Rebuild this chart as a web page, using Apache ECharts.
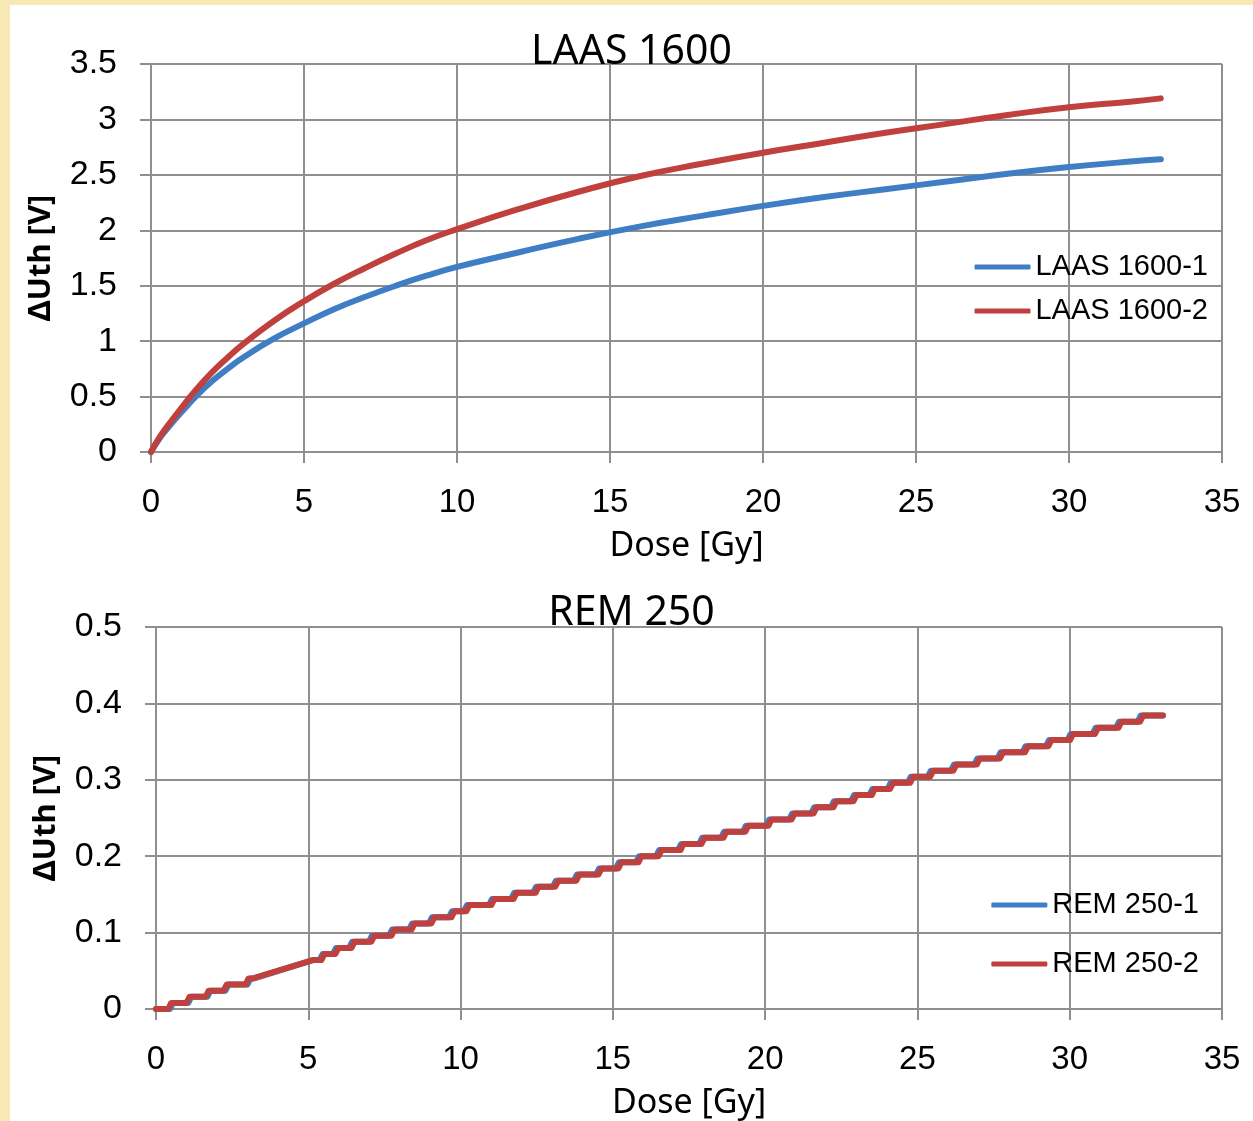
<!DOCTYPE html>
<html>
<head>
<meta charset="utf-8">
<script src="https://cdn.jsdelivr.net/npm/echarts@6/dist/echarts.min.js"></script>
<style>
  html, body { margin: 0; padding: 0; width: 1253px; height: 1121px; overflow: hidden; background: #f8e8b4; }
  #main { position: absolute; left: 10px; top: 5px; width: 1243px; height: 1116px; background: #fff; }
</style>
</head>
<body>
<div id="main"></div>
<script>
// LAAS 1600 - smooth curves
var laasDose = [0, 0.25, 0.5, 1, 1.5, 2, 2.5, 3, 4, 5, 6, 7, 8, 9, 10, 12, 14, 16, 18, 20, 22, 24, 26, 28, 30, 32, 33];
var laas1 = [0, 0.11, 0.20, 0.36, 0.51, 0.64, 0.75, 0.85, 1.02, 1.16, 1.29, 1.40, 1.50, 1.59, 1.67, 1.80, 1.925, 2.035, 2.13, 2.22, 2.30, 2.37, 2.44, 2.51, 2.57, 2.62, 2.64];
var laas2 = [0, 0.12, 0.22, 0.40, 0.57, 0.72, 0.85, 0.97, 1.18, 1.36, 1.52, 1.66, 1.79, 1.91, 2.01, 2.19, 2.35, 2.49, 2.60, 2.70, 2.79, 2.88, 2.96, 3.04, 3.11, 3.16, 3.19];

// REM 250 - quantised staircase, one level per flat, start/end dose of each flat
var remLevel = [0, 0.008, 0.016, 0.024, 0.032, 0.040, 0.064, 0.072, 0.080, 0.088, 0.096, 0.104, 0.112, 0.120,
  0.128, 0.136, 0.144, 0.152, 0.160, 0.168, 0.176, 0.184, 0.192, 0.200, 0.208, 0.216, 0.224, 0.232, 0.240,
  0.248, 0.256, 0.264, 0.272, 0.280, 0.288, 0.296, 0.304, 0.312, 0.320, 0.328, 0.336, 0.344, 0.352, 0.360,
  0.368, 0.376, 0.384];
var rem2Flat = [0, 0.40, 0.50, 1.00, 1.10, 1.63, 1.73, 2.22, 2.32, 2.94, 3.04, 3.18, 5.15, 5.43, 5.53, 5.89,
  5.99, 6.42, 6.52, 7.07, 7.17, 7.73, 7.83, 8.39, 8.49, 9.04, 9.14, 9.70, 9.80, 10.19, 10.29, 11.01,
  11.11, 11.74, 11.84, 12.46, 12.56, 13.11, 13.21, 13.80, 13.90, 14.53, 14.63, 15.18, 15.28, 15.84,
  15.94, 16.50, 16.60, 17.22, 17.32, 17.91, 18.01, 18.63, 18.73, 19.35, 19.45, 20.11, 20.21, 20.87,
  20.97, 21.59, 21.69, 22.24, 22.34, 22.90, 23.00, 23.50, 23.60, 24.10, 24.20, 24.76, 24.86, 25.42,
  25.52, 26.18, 26.28, 26.95, 27.05, 27.71, 27.81, 28.53, 28.63, 29.30, 29.40, 30.01, 30.11, 30.83,
  30.93, 31.60, 31.70, 32.31, 32.41, 33.06];
var rem1Flat = [0, 0.46, 0.56, 1.06, 1.16, 1.69, 1.79, 2.28, 2.38, 3.00, 3.10, 3.22, 5.15, 5.37, 5.47, 5.81,
  5.91, 6.34, 6.44, 6.99, 7.09, 7.65, 7.75, 8.31, 8.41, 8.96, 9.06, 9.62, 9.72, 10.11, 10.21, 10.93,
  11.03, 11.66, 11.76, 12.38, 12.48, 13.03, 13.13, 13.72, 13.82, 14.45, 14.55, 15.10, 15.20, 15.76,
  15.86, 16.42, 16.52, 17.14, 17.24, 17.83, 17.93, 18.55, 18.65, 19.27, 19.37, 20.03, 20.13, 20.79,
  20.89, 21.51, 21.61, 22.16, 22.26, 22.82, 22.92, 23.42, 23.52, 24.02, 24.12, 24.68, 24.78, 25.34,
  25.44, 26.10, 26.20, 26.87, 26.97, 27.63, 27.73, 28.45, 28.55, 29.22, 29.32, 29.93, 30.03, 30.75,
  30.85, 31.52, 31.62, 32.23, 32.33, 33.06];

var blue = '#3f7ec4';
var red = '#c0403e';
var grey = '#8f8f8f';

function pairs(xs, ys) {
    return xs.map(function (x, i) { return [x, ys[i]]; });
}
function stairs(flat, levels) {
    var out = [];
    for (var i = 0; i < levels.length; i++) {
        out.push([flat[2 * i], levels[i]]);
        out.push([flat[2 * i + 1], levels[i]]);
    }
    return out;
}

function xAx(idx) {
    return {
        gridIndex: idx, type: 'value', min: 0, max: 35, interval: 5,
        name: 'Dose [Gy]', nameLocation: 'middle', nameGap: 77,
        nameTextStyle: { fontFamily: 'Noto Sans', fontSize: 34, color: '#000' },
        axisLine: { lineStyle: { color: grey, width: 2 } },
        axisTick: { show: true, length: 11, lineStyle: { color: grey, width: 2 } },
        axisLabel: { margin: 34, fontFamily: 'Liberation Sans', fontSize: 33, color: '#000' },
        splitLine: { show: true, showMinLine: true, showMaxLine: true, lineStyle: { color: grey, width: 2 } }
    };
}
function yAx(idx, max, step) {
    return {
        gridIndex: idx, type: 'value', min: 0, max: max, interval: step,
        name: 'ΔUth [V]', nameLocation: 'middle', nameGap: 94,
        nameTextStyle: { fontFamily: 'Noto Sans', fontWeight: 'bold', fontSize: 31, color: '#000' },
        axisLine: { show: true, lineStyle: { color: grey, width: 2 } },
        axisTick: { show: true, length: 11, lineStyle: { color: grey, width: 2 } },
        axisLabel: { margin: 34, fontFamily: 'Liberation Sans', fontSize: 34, color: '#000' },
        splitLine: { show: true, showMinLine: true, showMaxLine: true, lineStyle: { color: grey, width: 2 } }
    };
}
function lineSeries(name, data, color, idx, smooth) {
    return {
        name: name, type: 'line', xAxisIndex: idx, yAxisIndex: idx,
        data: data, showSymbol: false, smooth: smooth,
        lineStyle: { color: color, width: 6, cap: 'round', join: 'round' },
        itemStyle: { color: color }
    };
}
var legendText = { fontFamily: 'Liberation Sans', fontSize: 29, color: '#000', lineHeight: 34 };

var chart = echarts.init(document.getElementById('main'));
var option = {
    animation: false,
    backgroundColor: '#fff',
    title: [
        { text: 'LAAS 1600', left: 'center', top: 27, padding: 0,
          textStyle: { fontFamily: 'Noto Sans', fontSize: 41, fontWeight: 'normal', color: '#000' } },
        { text: 'REM 250', left: 'center', top: 588, padding: 0,
          textStyle: { fontFamily: 'Noto Sans', fontSize: 41, fontWeight: 'normal', color: '#000' } }
    ],
    legend: [
        { data: ['LAAS 1600-1', 'LAAS 1600-2'], orient: 'vertical', right: 45, top: 245,
          icon: 'roundRect', itemWidth: 56, itemHeight: 5, itemGap: 10, padding: 0, textStyle: legendText },
        { data: ['REM 250-1', 'REM 250-2'], orient: 'vertical', right: 54, top: 883,
          icon: 'roundRect', itemWidth: 56, itemHeight: 5, itemGap: 25, padding: 0, textStyle: legendText }
    ],
    grid: [
        { left: 141, right: 31, top: 59, height: 388 },
        { left: 146, right: 31, top: 622, height: 385 }
    ],
    xAxis: [xAx(0), xAx(1)],
    yAxis: [yAx(0, 3.5, 0.5), yAx(1, 0.5, 0.1)],
    series: [
        lineSeries('LAAS 1600-1', pairs(laasDose, laas1), blue, 0, 0.5),
        lineSeries('LAAS 1600-2', pairs(laasDose, laas2), red, 0, 0.5),
        lineSeries('REM 250-1', stairs(rem1Flat, remLevel), blue, 1, false),
        lineSeries('REM 250-2', stairs(rem2Flat, remLevel), red, 1, false)
    ]
};
chart.setOption(option);
</script>
</body>
</html>
